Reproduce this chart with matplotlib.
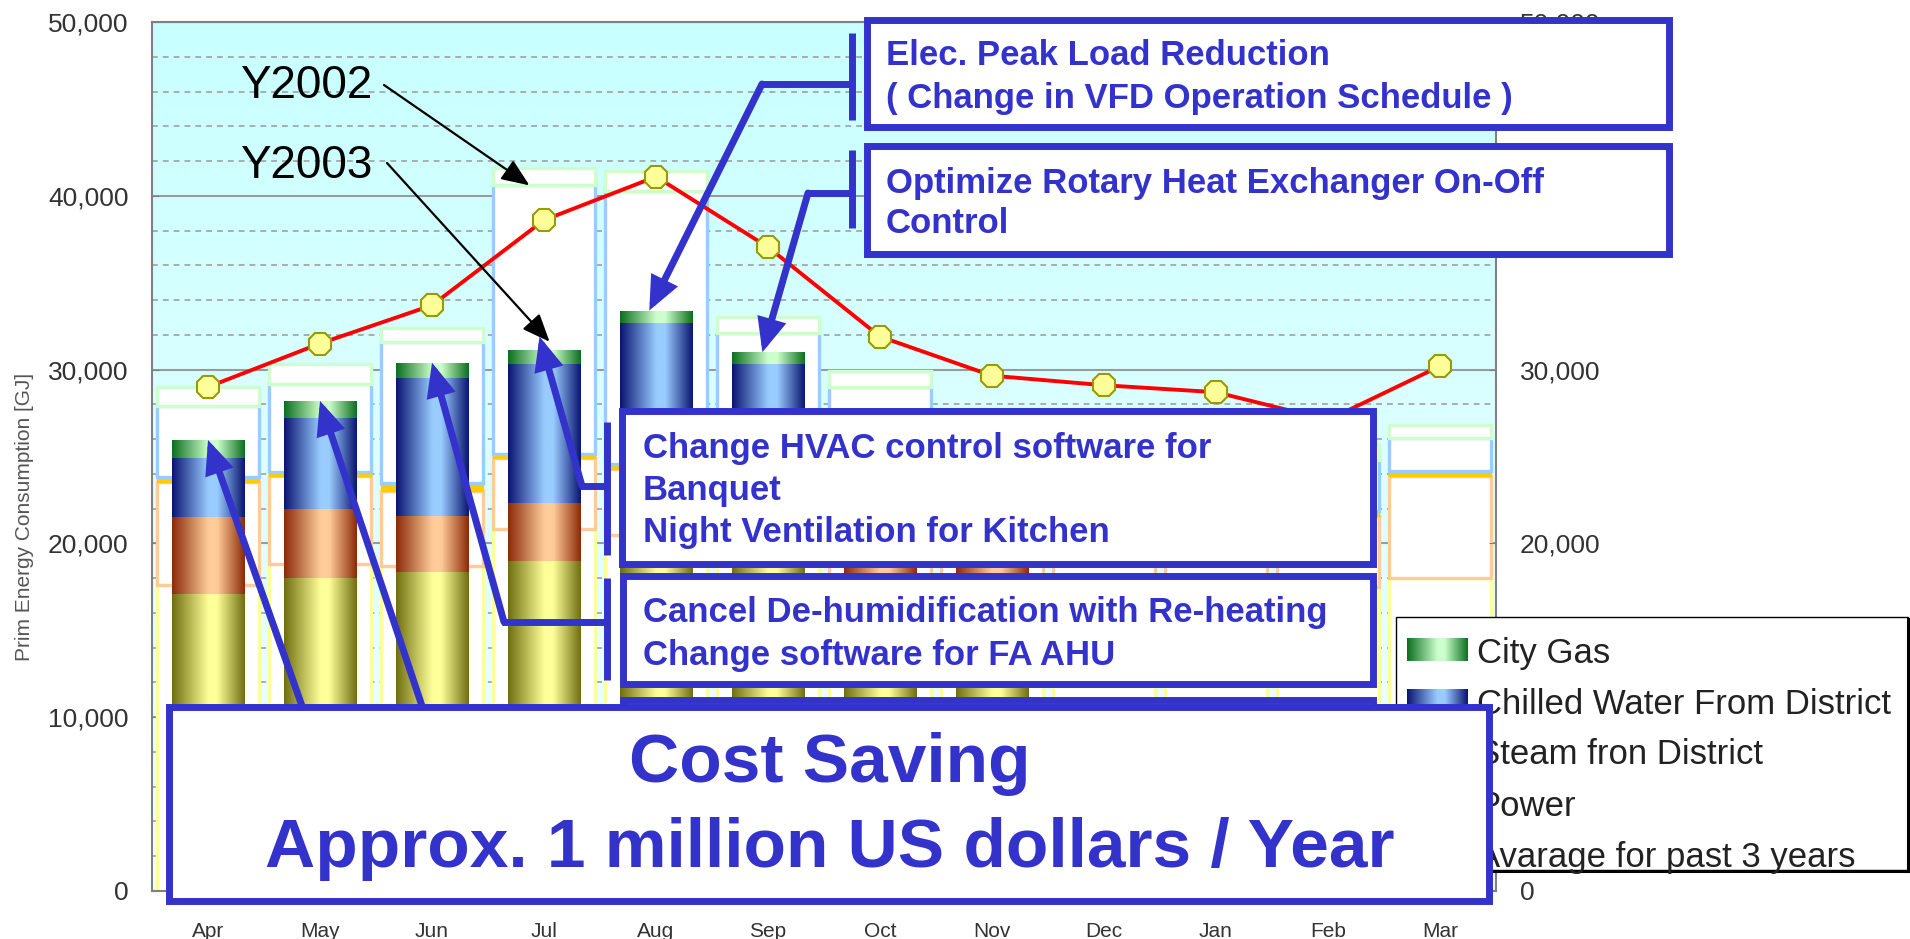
import numpy as np
import matplotlib
matplotlib.use('Agg')
import matplotlib.pyplot as plt
from matplotlib.colors import LinearSegmentedColormap
from matplotlib.patches import Rectangle
from matplotlib.ticker import FuncFormatter, MultipleLocator

plt.rcParams['font.family'] = ['Liberation Sans', 'DejaVu Sans']

# ---------------- data ----------------
months = ['Apr', 'May', 'Jun', 'Jul', 'Aug', 'Sep', 'Oct', 'Nov', 'Dec', 'Jan', 'Feb', 'Mar']

# Y2002 (GJ) - outlined boxes
y2002_power   = [17600, 18800, 18700, 20800, 20500, 20000, 18000, 17500, 17800, 17800, 17500, 18000]
y2002_steam   = [5950, 5050, 4300, 4100, 3800, 4000, 5500, 5000, 4700, 4200, 4100, 5900]
y2002_other   = [250, 250, 450, 250, 250, 250, 250, 250, 250, 250, 250, 250]
y2002_chilled = [4100, 5100, 8150, 15450, 15750, 7850, 5250, 3750, 3250, 3550, 2950, 1900]
y2002_gas     = [1100, 1100, 800, 1000, 1100, 900, 900, 900, 900, 900, 900, 750]

# Y2003 (GJ) - gradient bars (data until Nov)
nan = np.nan
y2003_power   = [17100, 18000, 18350, 19000, 19500, 19200, 16800, 16500, nan, nan, nan, nan]
y2003_steam   = [4400, 4000, 3250, 3300, 3300, 3100, 3800, 3700, nan, nan, nan, nan]
y2003_chilled = [3400, 5200, 7900, 8000, 9900, 8000, 4200, 3200, nan, nan, nan, nan]
y2003_gas     = [1050, 1000, 900, 800, 700, 700, 800, 800, nan, nan, nan, nan]

avg_3yr = [29000, 31500, 33700, 38600, 41100, 37050, 31900, 29650, 29100, 28700, 27100, 30200]

legend_labels = ['City Gas', 'Chilled Water From District', 'Steam fron District', 'Power',
                 'Avarage for past 3 years']

# right-axis labels that stay visible (the others are covered by boxes / legend)
right_ticks = [0, 10000, 20000, 30000, 40000, 50000]
right_labels = ['0', '', '20,000', '30,000', '', '50,000']

# ---------------- figure ----------------
W, H = 1910, 939
L, R, T, B = 152, 1496, 22, 891
BLUE = '#3333CC'

fig = plt.figure(figsize=(W / 100, H / 100), dpi=100)
ax = fig.add_axes([L / W, (H - B) / H, (R - L) / W, (B - T) / H])
x = np.arange(len(months))

# background gradient
bg = LinearSegmentedColormap.from_list('bg', ['#C8FFFF', '#F2FFFF'])
ax.imshow(np.linspace(0, 1, 256).reshape(-1, 1), cmap=bg, extent=[0, 1, 0, 1],
          transform=ax.transAxes, aspect='auto', zorder=0)

# Y2002 boxes
bottom = np.zeros(len(months))
for vals, ec, fc, lw in [(y2002_power, '#FFFF99', 'white', 2.4),
                         (y2002_steam, '#FFCC99', 'white', 2.4),
                         (y2002_other, '#FFCC00', '#FFCC00', 1.0),
                         (y2002_chilled, '#99CCFF', 'white', 2.4),
                         (y2002_gas, '#CCFFCC', 'white', 2.4)]:
    ax.bar(x, vals, 0.91, bottom=bottom, facecolor=fc, edgecolor=ec, linewidth=lw, zorder=2)
    bottom = bottom + np.array(vals, dtype=float)

c2002 = np.cumsum(np.array([y2002_power, y2002_steam, y2002_other, y2002_chilled, y2002_gas],
                           dtype=float), axis=0)


def cmap3(name, dark, light):
    return LinearSegmentedColormap.from_list(name, [(0, dark), (0.5, light), (0.62, light), (1, dark)])


cm_pwr = cmap3('pwr', '#6E6E10', '#FFFF99')
cm_stm = cmap3('stm', '#8A2A08', '#FFCC99')
cm_chw = cmap3('chw', '#0A1470', '#99CCFF')
cm_gas = cmap3('gas', '#0B6E1E', '#CCFFCC')
grad = np.linspace(0, 1, 256).reshape(1, -1)

mask = np.isfinite(np.array(y2003_power, dtype=float))
bottom = np.zeros(mask.sum())
for vals, cm in [(y2003_power, cm_pwr), (y2003_steam, cm_stm),
                 (y2003_chilled, cm_chw), (y2003_gas, cm_gas)]:
    v = np.array(vals, dtype=float)[mask]
    bars = ax.bar(x[mask], v, 0.65, bottom=bottom, facecolor='none', edgecolor='none', zorder=3)
    for p in bars.patches:
        x0, y0 = p.get_x(), p.get_y()
        im = ax.imshow(grad, cmap=cm, extent=[x0, x0 + p.get_width(), y0, y0 + p.get_height()],
                       aspect='auto', interpolation='bicubic', zorder=3)
        im.set_clip_path(p)
    bottom = bottom + v
top2003 = bottom

# average line
ax.plot(x, avg_3yr, color='#FF0000', lw=2.8, marker='8', ms=17, mfc='#FFFF99',
        mec='#999900', mew=1.5, zorder=6)

# axes styling
fmt = FuncFormatter(lambda v, p: f'{int(v):,}')
ax.set_xlim(-0.5, 11.5)
ax.set_ylim(0, 50000)
ax.set_xticks(x)
ax.set_xticklabels(months)
ax.yaxis.set_major_locator(MultipleLocator(10000))
ax.yaxis.set_minor_locator(MultipleLocator(2000))
ax.yaxis.set_major_formatter(fmt)
ax.set_axisbelow(True)
ax.grid(which='major', axis='y', color='#9A9A9A', lw=1.5)
ax.grid(which='minor', axis='y', color='#A0A0A0', lw=1.2, ls=(0, (3.5, 3)))
ax.tick_params(axis='y', which='major', direction='in', length=5, color='#808080',
               labelsize=19, labelcolor='#333333', pad=17)
ax.tick_params(axis='y', which='minor', length=0)
ax.tick_params(axis='x', length=0, labelsize=15, labelcolor='#333333', pad=22)
for s in ax.spines.values():
    s.set_color('#808080')
    s.set_linewidth(1.5)

ax2 = ax.twinx()
ax2.set_ylim(0, 50000)
ax2.set_yticks(right_ticks)
ax2.set_yticklabels(right_labels)
ax2.tick_params(axis='y', direction='in', length=5, color='#808080', labelsize=19,
                labelcolor='#333333', pad=17)
for s in ax2.spines.values():
    s.set_visible(False)

# ---------------- overlay (pixel coordinates) ----------------
ov = fig.add_axes([0, 0, 1, 1], zorder=10)
ov.set_xlim(0, W)
ov.set_ylim(H, 0)
ov.axis('off')

ov.text(24, 517, 'Prim Energy Consumption [GJ]', rotation=90, ha='center', va='center',
        fontsize=15, color='#555555')

# legend
ov.add_patch(Rectangle((1396, 617), 512, 253, facecolor='white', edgecolor='black', lw=1.0, zorder=2))
ov.plot([1908, 1908], [619, 871], color='black', lw=2.2, zorder=2.1)
ov.plot([1398, 1908], [871, 871], color='black', lw=2.2, zorder=2.1)
leg_y = [650, 701, 752, 804, 855]
for cm, yy in zip([cm_gas, cm_chw, cm_stm, cm_pwr], leg_y[:4]):
    ov.imshow(grad, cmap=cm, extent=[1407, 1468, yy + 11.5, yy - 11.5], aspect='auto',
              interpolation='bicubic', zorder=2.2)
ov.plot([1407, 1468], [leg_y[4], leg_y[4]], color='#FF0000', lw=2.8, zorder=2.2)
ov.plot([1437.5], [leg_y[4]], marker='8', ms=14, mfc='#FFFF99', mec='#999900', zorder=2.3)
for lab, yy in zip(legend_labels, leg_y):
    ov.text(1477, yy + 12.5, lab, fontsize=25, color='#222222', va='baseline', ha='left', zorder=2.4)
ov.set_xlim(0, W)
ov.set_ylim(H, 0)

# Y2002 / Y2003 labels with black arrows
black_arrow = dict(arrowstyle='-|>,head_length=0.85,head_width=0.35', mutation_scale=20, lw=1.6,
                   color='black', shrinkA=0, shrinkB=0)
ov.text(240, 98, 'Y2002', fontsize=33, color='black', va='baseline', zorder=3)
ov.text(240, 178, 'Y2003', fontsize=33, color='black', va='baseline', zorder=3)
ov.annotate('', xy=(3 - 0.13, c2002[3][3]), xycoords=ax.transData, xytext=(384, 85),
            textcoords='data', arrowprops=black_arrow, zorder=3)
ov.annotate('', xy=(3.05, top2003[3] + 500), xycoords=ax.transData, xytext=(387, 163),
            textcoords='data', arrowprops=black_arrow, zorder=3)

# blue arrows
blue_arrow = dict(arrowstyle='-|>,head_length=0.8,head_width=0.35', mutation_scale=20, lw=5,
                  color=BLUE, shrinkA=0, shrinkB=0, joinstyle='miter')


def arrow(start, tip):
    ov.annotate('', xy=tip, xycoords=ax.transData, xytext=start, textcoords='data',
                arrowprops=blue_arrow, zorder=4)


def line(xs, ys, z=4):
    ov.plot(xs, ys, color=BLUE, lw=5, solid_capstyle='butt', zorder=z)


def box(x0, y0, x1, y1, z):
    ov.add_patch(Rectangle((x0, y0), x1 - x0, y1 - y0, facecolor='white', edgecolor=BLUE,
                           lw=5, joinstyle='miter', zorder=z))


def btext(xx, yy, s, size=25, z=6, ha='left'):
    ov.text(xx, yy, s, fontsize=size, fontweight='bold', color=BLUE, va='baseline', ha=ha, zorder=z)


# Elec. Peak Load Reduction -> Aug
line([852, 852], [33, 120]); line([760, 852], [84, 84])
arrow((762, 84), (4 - 0.06, top2003[4]))
box(866.5, 19.5, 1668.5, 126.5, 5)
btext(886, 65, 'Elec. Peak Load Reduction')
btext(886, 108, '( Change in VFD Operation Schedule )')

# Optimize Rotary Heat Exchanger -> Sep
line([852, 852], [150, 228]); line([806, 852], [193, 193])
arrow((808, 193), (5 - 0.05, top2003[5]))
box(866.5, 145.5, 1668.5, 253.5, 5)
btext(886, 193, 'Optimize Rotary Heat Exchanger On-Off')
btext(886, 233, 'Control')

# HVAC -> Jul
line([607, 607], [422, 555]); line([580, 607], [486, 486])
arrow((582, 486), (3 - 0.04, top2003[3] + 800))
box(621.5, 410.5, 1372.5, 563.5, 5)
btext(643, 458, 'Change HVAC control software for')
btext(643, 500, 'Banquet')
btext(643, 542, 'Night Ventilation for Kitchen')

# Cancel de-humidification -> Jun
line([607, 607], [578, 680]); line([502, 607], [622, 622])
arrow((504, 622), (2, top2003[2]))
box(622.5, 575.5, 1372.5, 683.5, 5)
btext(643, 622, 'Cancel De-humidification with Re-heating')
btext(643, 665, 'Change software for FA AHU')

# hidden fifth box
box(622.5, 700, 1372.5, 800, 8)

# Cost saving box with arrows to Apr / May
arrow((302, 706), (0, top2003[0]))
arrow((422, 706), (1, top2003[1]))
box(168.5, 706.5, 1488.5, 901, 9)
btext(830, 782, 'Cost Saving', size=50, z=10, ha='center')
btext(830, 867, 'Approx. 1 million US dollars / Year', size=50, z=10, ha='center')

fig.savefig('out.png', dpi=100)
